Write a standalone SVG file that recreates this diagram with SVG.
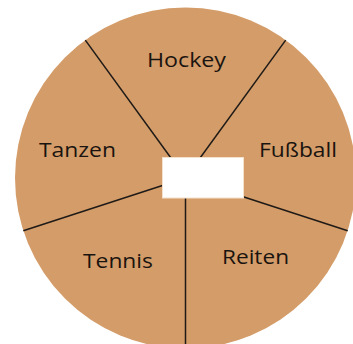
<svg xmlns="http://www.w3.org/2000/svg" width="353" height="344" viewBox="0 0 353 344">
  <style>
    .wheel { fill: #D49C68; }
    .spoke { stroke: #1e1a17; stroke-width: 1.5; fill: none; }
    .label { font-family: "Open Sans", "Liberation Sans", sans-serif; font-size: 20px; fill: #1a1410; }
    .hub { fill: #ffffff; stroke: #f3e1cb; stroke-width: 1; }
  </style>
  <rect width="353" height="344" fill="#ffffff"/>
  <g id="wheel">
    <circle class="wheel" cx="185.5" cy="178" r="170.5"/>
  </g>
  <g id="connectors">
    <line class="spoke" x1="185.5" y1="178" x2="185.5" y2="348.5"/>
    <line class="spoke" x1="185.5" y1="178" x2="347.7" y2="230.7"/>
    <line class="spoke" x1="185.5" y1="178" x2="23.3" y2="230.7"/>
    <line class="spoke" x1="185.5" y1="178" x2="285.7" y2="40.1"/>
    <line class="spoke" x1="185.5" y1="178" x2="85.3" y2="40.1"/>
  </g>
  <g id="hub">
    <rect class="hub" x="162.5" y="157.5" width="81" height="40.5"/>
  </g>
  <g id="hockey"><text class="label" x="147" y="67" textLength="79" lengthAdjust="spacingAndGlyphs">Hockey</text></g>
  <g id="tanzen"><text class="label" x="39" y="157" textLength="77" lengthAdjust="spacingAndGlyphs">Tanzen</text></g>
  <g id="fussball"><text class="label" x="259" y="157" textLength="78" lengthAdjust="spacingAndGlyphs">Fußball</text></g>
  <g id="tennis"><text class="label" x="83" y="268" textLength="70" lengthAdjust="spacingAndGlyphs">Tennis</text></g>
  <g id="reiten"><text class="label" x="222" y="264" textLength="67" lengthAdjust="spacingAndGlyphs">Reiten</text></g>
</svg>
